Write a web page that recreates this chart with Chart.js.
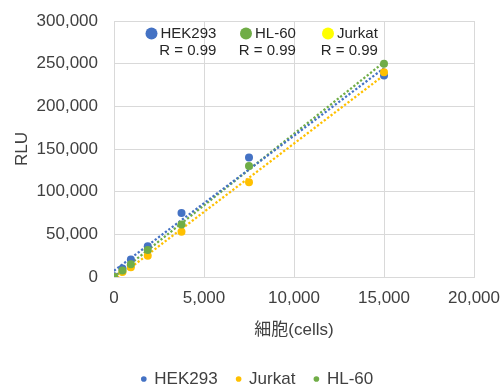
<!DOCTYPE html>
<html>
<head>
<meta charset="utf-8">
<script src="https://cdn.jsdelivr.net/npm/chart.js@4/dist/chart.umd.min.js"></script>
<style>
  html, body { margin: 0; padding: 0; background: #ffffff; }
  #wrap { width: 503px; height: 387px; }
</style>
</head>
<body>
<div id="wrap"><canvas id="c" width="503" height="387"></canvas></div>
<script>
// Cell counts per well and luminescence readings (RLU)
const cells  = [0, 469, 938, 1875, 3750, 7500, 15000];
const hek293 = [1000, 10000, 20500, 36000, 75000, 140000, 236000];
const jurkat = [0, 6000, 11500, 25000, 53000, 111000, 240000];
const hl60   = [0, 7500, 15000, 31500, 61500, 130000, 250000];

const seriesNames = ['HEK293', 'Jurkat', 'HL-60'];
const xTicks = [0, 5000, 10000, 15000, 20000];
const yTicks = [0, 50000, 100000, 150000, 200000, 250000, 300000];

// Boxed notes at the top of the plot
const noteNames = ['HEK293', 'HL-60', 'Jurkat'];
const noteR     = ['R = 0.99', 'R = 0.99', 'R = 0.99'];

const COLORS = { 'HEK293': '#4472C4', 'Jurkat': '#FFC000', 'HL-60': '#70AD47' };
const NOTE_DOT = { 'HEK293': '#4472C4', 'Jurkat': '#FFFF00', 'HL-60': '#70AD47' };
const FONT = "'Liberation Sans', Arial, 'Noto Sans CJK JP', sans-serif";

const values = { 'HEK293': hek293, 'Jurkat': jurkat, 'HL-60': hl60 };

function toPoints(ys) { return cells.map((x, i) => ({ x: x, y: ys[i] })); }

// least-squares straight line through a series
function linearFit(xs, ys) {
  const n = xs.length;
  const mx = xs.reduce((a, b) => a + b, 0) / n;
  const my = ys.reduce((a, b) => a + b, 0) / n;
  let sxy = 0, sxx = 0;
  for (let i = 0; i < n; i++) { sxy += (xs[i] - mx) * (ys[i] - my); sxx += (xs[i] - mx) ** 2; }
  const m = sxy / sxx;
  const b = my - m * mx;
  const x0 = Math.min(...xs), x1 = Math.max(...xs);
  return [{ x: x0, y: b + m * x0 }, { x: x1, y: b + m * x1 }];
}

// drawing order: HL-60 on top, then Jurkat, then HEK293
const drawOrder = { 'HEK293': 3, 'Jurkat': 2, 'HL-60': 1 };

const datasets = [];
seriesNames.forEach(name => {
  datasets.push({
    label: name,
    data: toPoints(values[name]),
    backgroundColor: COLORS[name],
    borderColor: COLORS[name],
    pointRadius: 4,
    pointHoverRadius: 4,
    pointBorderWidth: 0,
    showLine: false,
    order: drawOrder[name]
  });
});
seriesNames.forEach((name, i) => {
  datasets.push({
    label: name + ' trend',
    isTrend: true,
    data: linearFit(cells, values[name]),
    borderColor: COLORS[name],
    backgroundColor: COLORS[name],
    borderWidth: 2.25,
    borderDash: [2.25, 2],
    pointRadius: 0,
    showLine: true,
    fill: false,
    order: 4 + i
  });
});

const notesPlugin = {
  id: 'notes',
  afterDraw(chart) {
    const ctx = chart.ctx;
    const area = chart.chartArea;
    const slots = [area.left + 37.5, area.left + 132, area.left + 214];
    ctx.save();
    ctx.font = '15px ' + FONT;
    ctx.textBaseline = 'middle';
    noteNames.forEach((name, i) => {
      const x = slots[i];
      ctx.fillStyle = NOTE_DOT[name];
      ctx.beginPath();
      ctx.arc(x, area.top + 12.5, 6, 0, Math.PI * 2);
      ctx.fill();
      ctx.fillStyle = '#262626';
      ctx.textAlign = 'left';
      ctx.fillText(name, x + 9, area.top + 12.5);
      const nameRight = x + 9 + ctx.measureText(name).width;
      ctx.textAlign = 'right';
      ctx.fillText(noteR[i], nameRight, area.top + 29.5);
    });
    ctx.restore();
  }
};

Chart.defaults.font.family = FONT;
Chart.defaults.color = '#404040';

new Chart(document.getElementById('c'), {
  type: 'scatter',
  data: { datasets: datasets },
  options: {
    responsive: false,
    animation: false,
    layout: { padding: { top: 21, right: 0, left: 12, bottom: -10.5 } },
    plugins: {
      tooltip: { enabled: false },
      legend: {
        position: 'bottom',
        labels: {
          font: { size: 17 },
          color: '#404040',
          usePointStyle: true,
          pointStyle: 'circle',
          boxWidth: 4,
          boxHeight: 4,
          padding: 19,
          filter: item => !datasets[item.datasetIndex].isTrend,
          sort: (a, b) => a.datasetIndex - b.datasetIndex
        }
      }
    },
    scales: {
      x: {
        type: 'linear',
        min: xTicks[0],
        max: xTicks[xTicks.length - 1],
        afterBuildTicks: s => { s.ticks = xTicks.map(v => ({ value: v })); },
        afterFit: s => { s.height = 74.5; },
        grid: { color: '#D9D9D9', drawTicks: true, tickLength: 8, tickColor: 'rgba(0,0,0,0)' },
        border: { color: '#D9D9D9' },
        ticks: { font: { size: 17 }, padding: 3, maxRotation: 0 },
        title: { display: true, text: '細胞(cells)', font: { size: 17 }, color: '#404040', padding: { top: 0, bottom: 11 } }
      },
      y: {
        type: 'linear',
        min: yTicks[0],
        max: yTicks[yTicks.length - 1],
        afterBuildTicks: s => { s.ticks = yTicks.map(v => ({ value: v })); },
        afterFit: s => { s.width = 102; },
        grid: { color: '#D9D9D9', drawTicks: true, tickLength: 11, tickColor: 'rgba(0,0,0,0)' },
        border: { color: '#D9D9D9' },
        ticks: { font: { size: 17 }, padding: 5 },
        title: { display: true, text: 'RLU', font: { size: 17 }, color: '#404040', padding: { top: 0, bottom: 0 } }
      },
      // empty right-hand strip that keeps room beside the plot
      yRight: {
        type: 'linear',
        position: 'right',
        min: yTicks[0],
        max: yTicks[yTicks.length - 1],
        afterFit: s => { s.width = 29; },
        grid: { display: false, drawTicks: false },
        border: { display: false },
        ticks: { display: false }
      }
    }
  },
  plugins: [notesPlugin]
});
</script>
</body>
</html>
